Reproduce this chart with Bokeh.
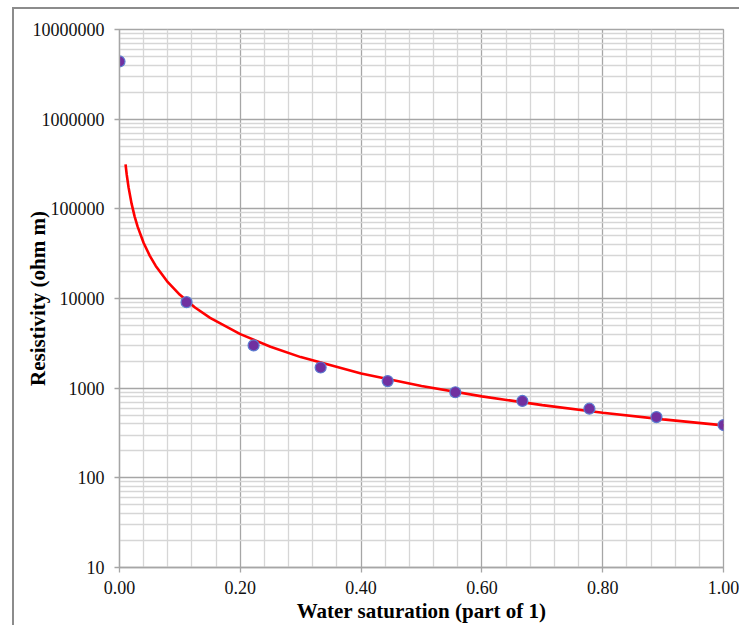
from bokeh.plotting import figure
from bokeh.models import FixedTicker, NumeralTickFormatter
from bokeh.embed import file_html
from bokeh.resources import INLINE

# Measured points
sw = [0.0, 0.111, 0.222, 0.333, 0.444, 0.556, 0.667, 0.778, 0.889, 1.0]
resistivity = [4400000, 9100, 3000, 1700, 1200, 900, 720, 590, 476, 388]

# Red trend curve
curve_sw = [0.01, 0.012, 0.015, 0.02, 0.025, 0.03, 0.04, 0.05, 0.06, 0.08, 0.1,
            0.125, 0.15, 0.2, 0.25, 0.3, 0.4, 0.5, 0.6, 0.7, 0.8, 0.9, 1.0]
curve_res = [313000, 240000, 173500, 114200, 82500, 63300, 41640, 30100, 23080,
             15190, 10980, 7935, 6085, 4004, 2894, 2220, 1460, 1056, 810, 647,
             533, 449, 385]

x_ticks = [0.0, 0.2, 0.4, 0.6, 0.8, 1.0]
x_minor = [0.04, 0.08, 0.12, 0.16, 0.24, 0.28, 0.32, 0.36, 0.44, 0.48, 0.52, 0.56,
           0.64, 0.68, 0.72, 0.76, 0.84, 0.88, 0.92, 0.96]
y_ticks = [10, 100, 1000, 10000, 100000, 1000000, 10000000]
y_minor = [m * d for d in y_ticks[:-1] for m in range(2, 10)]

FONT = "Liberation Serif"
MAJOR = "#a6a6a6"
MINOR = "#d6d6d6"

p = figure(width=725, height=610, x_range=(0, 1.0), y_range=(10, 10000000),
           y_axis_type="log", output_backend="svg", toolbar_location=None,
           min_border_left=105, min_border_right=16, min_border_top=20,
           min_border_bottom=52)
p.frame_width = 604
p.frame_height = 538
p.styles = {"margin-left": "12px", "margin-top": "7px",
            "border-left": "2px solid #8c8c8c", "border-top": "2px solid #8c8c8c"}
p.background_fill_color = "white"
p.border_fill_color = "white"
p.outline_line_color = MAJOR
p.outline_line_width = 1.3

p.xaxis.ticker = FixedTicker(ticks=x_ticks, minor_ticks=x_minor)
p.yaxis.ticker = FixedTicker(ticks=y_ticks, minor_ticks=y_minor)
p.xaxis.formatter = NumeralTickFormatter(format="0.00")
p.yaxis.formatter = NumeralTickFormatter(format="0")

for ax in (p.xaxis, p.yaxis):
    ax.axis_line_color = MAJOR
    ax.axis_line_width = 1.3
    ax.major_tick_line_color = MAJOR
    ax.major_tick_line_width = 1.3
    ax.major_tick_out = 5
    ax.major_tick_in = 0
    ax.minor_tick_out = 0
    ax.minor_tick_in = 0
    ax.major_label_text_font = FONT
    ax.major_label_text_font_size = "18px"
    ax.major_label_text_color = "#111111"
    ax.axis_label_text_font = FONT
    ax.axis_label_text_font_style = "bold"
    ax.axis_label_text_font_size = "21px"
    ax.axis_label_text_color = "#000000"

p.xaxis.axis_label = "Water saturation (part of 1)"
p.yaxis.axis_label = "Resistivity (ohm m)"
p.xaxis.major_label_standoff = 8
p.yaxis.major_label_standoff = 10
p.xaxis.axis_label_standoff = 2
p.yaxis.axis_label_standoff = -20

for g in (p.xgrid, p.ygrid):
    g.grid_line_color = MAJOR
    g.grid_line_width = 1.3
    g.minor_grid_line_color = MINOR
    g.minor_grid_line_width = 1.3
p.xgrid.ticker = p.xaxis.ticker
p.ygrid.ticker = p.yaxis.ticker

p.line(curve_sw, curve_res, line_color="#ff0000", line_width=2.6)
p.scatter(sw, resistivity, size=11, fill_color="#7030a0", line_color="#5b7bd0",
          line_width=1.2)

open("out.html", "w").write(file_html(p, INLINE))
